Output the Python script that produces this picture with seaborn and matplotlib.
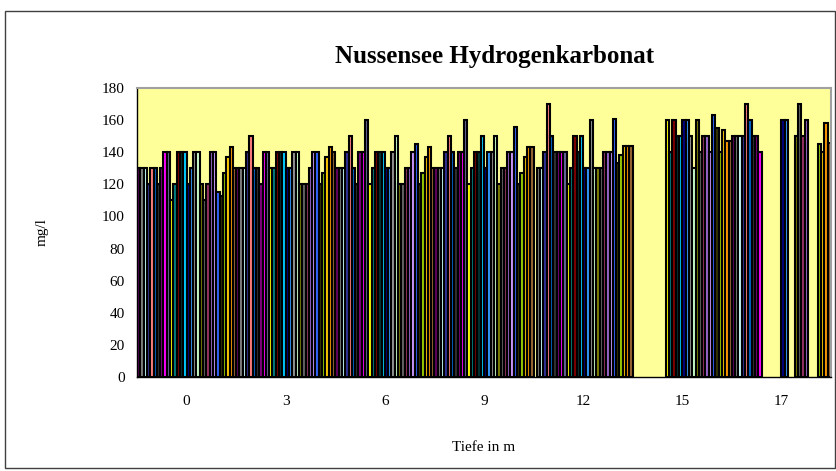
import numpy as np
import pandas as pd
import matplotlib
matplotlib.use("Agg")
import matplotlib.pyplot as plt
import seaborn as sns
from matplotlib.patches import Rectangle

N = None
depths = ["0", "3", "6", "9", "12", "15", "17"]

d0 = [130, 130, 130, 120, 130, 130, 120, 130, 140, 140, 110, 120, 140, 140, 140,
      120, 130, 140, 140, 120, 110, 120, 140, 140, 115, 113, 127, 137, 143, 130]
d3 = [130, 130, 130, 140, 150, 130, 130, 120, 140, 140, 130, 130, 140, 140, 140,
      130, 130, 140, 140, 120, 120, 120, 130, 140, 140, 120, 127, 137, 143, 140]
d6 = [130, 130, 130, 140, 150, 130, 120, 140, 140, 160, 120, 130, 140, 140, 140,
      130, 130, 140, 150, 120, 120, 130, 130, 140, 145, 120, 127, 137, 143, 130]
d9 = [130, 130, 130, 140, 150, 140, 130, 140, 140, 160, 120, 130, 140, 140, 150,
      130, 140, 140, 150, 120, 130, 130, 140, 140, 156, 120, 127, 137, 143, 143]
d12 = [N, 130, 130, 140, 170, 150, 140, 140, 140, 140, 120, 130, 150, 140, 150,
       130, 130, 160, 130, 130, 130, 140, 140, 140, 161, 133, 138, 144, 144, 144]
d15 = [N, N, N, N, N, N, N, N, N, N, 160, 140, 160, 150, 150,
       160, 160, 150, 130, 160, 140, 150, 150, 140, 163, 155, 140, 154, 147, 147]
d17 = [150, 150, 150, 150, 170, 160, 150, 150, 140, N, N, N, N, N, N,
       160, 160, N, N, 150, 170, 150, 160, N, N, N, 145, 140, 158, 146]

series = [f"Serie {i + 1}" for i in range(30)]
colors = ["#660066", "#808080", "#CCFFFF", "#333399", "#FF8080", "#0066CC",
          "#333333", "#800080", "#FF00FF", "#666699", "#FFFF00", "#008080",
          "#800000", "#003333", "#00CCFF", "#000080", "#3399FF", "#969696",
          "#CCFFCC", "#808000", "#666666", "#993366", "#9966CC", "#CC99FF",
          "#3366FF", "#333300", "#99CC00", "#FFCC00", "#FF9900", "#996633"]

rows = []
for dep, vals in zip(depths, [d0, d3, d6, d9, d12, d15, d17]):
    for s, v in zip(series, vals):
        if v is not None:
            rows.append({"Tiefe": dep, "Serie": s, "Wert": v})
df = pd.DataFrame(rows)

sns.set_style("white")
plt.rcParams["font.family"] = ["Liberation Serif", "DejaVu Serif"]
plt.rcParams["text.color"] = "black"
plt.rcParams["axes.labelcolor"] = "black"
plt.rcParams["xtick.color"] = "black"
plt.rcParams["ytick.color"] = "black"

fig = plt.figure(figsize=(8.37, 4.71), dpi=100)
ax = fig.add_axes([137 / 837, 1 - 377 / 471, (831 - 137) / 837, (377 - 88) / 471])

sns.barplot(data=df, x="Tiefe", y="Wert", hue="Serie", order=depths,
            hue_order=series, palette=colors, width=1.0, gap=0, dodge=True,
            errorbar=None, saturation=1, edgecolor="black", linewidth=1.5,
            legend=False, ax=ax)

ax.set_facecolor("#FFFF99")
ax.set_xlim(-0.5, 6.5)
ax.set_ylim(0, 180)
ax.set_yticks(np.arange(0, 181, 20))
ax.set_xticks(np.arange(-0.5, 7, 1), minor=True)
ax.tick_params(axis="x", which="major", length=0, labelsize=11, pad=13, labelcolor="black")
ax.tick_params(axis="x", which="minor", length=5, width=0.8, color="black", direction="out")
ax.tick_params(axis="y", length=5, width=0.8, color="black", direction="out",
               labelsize=11, pad=4, labelcolor="black")
for sp in ["left", "bottom"]:
    ax.spines[sp].set_color("black")
    ax.spines[sp].set_linewidth(1.0)
for sp in ["top", "right"]:
    ax.spines[sp].set_color("#A0A0A0")
    ax.spines[sp].set_linewidth(1.5)

ax.set_xlabel("Tiefe in m", fontsize=11, labelpad=24, color="black")
ax.set_ylabel("mg/l", fontsize=11, labelpad=38, color="black")
ax.set_title("Nussensee Hydrogenkarbonat", fontsize=18, fontweight="bold", pad=18,
             color="black", x=(495 - 137) / 694)

fig.patches.append(Rectangle((5 / 837, 1 - 468 / 471), (835 - 5) / 837, (468 - 11) / 471,
                             transform=fig.transFigure, fill=False,
                             edgecolor="#404040", linewidth=1.0))

fig.savefig("out.png", dpi=100)
